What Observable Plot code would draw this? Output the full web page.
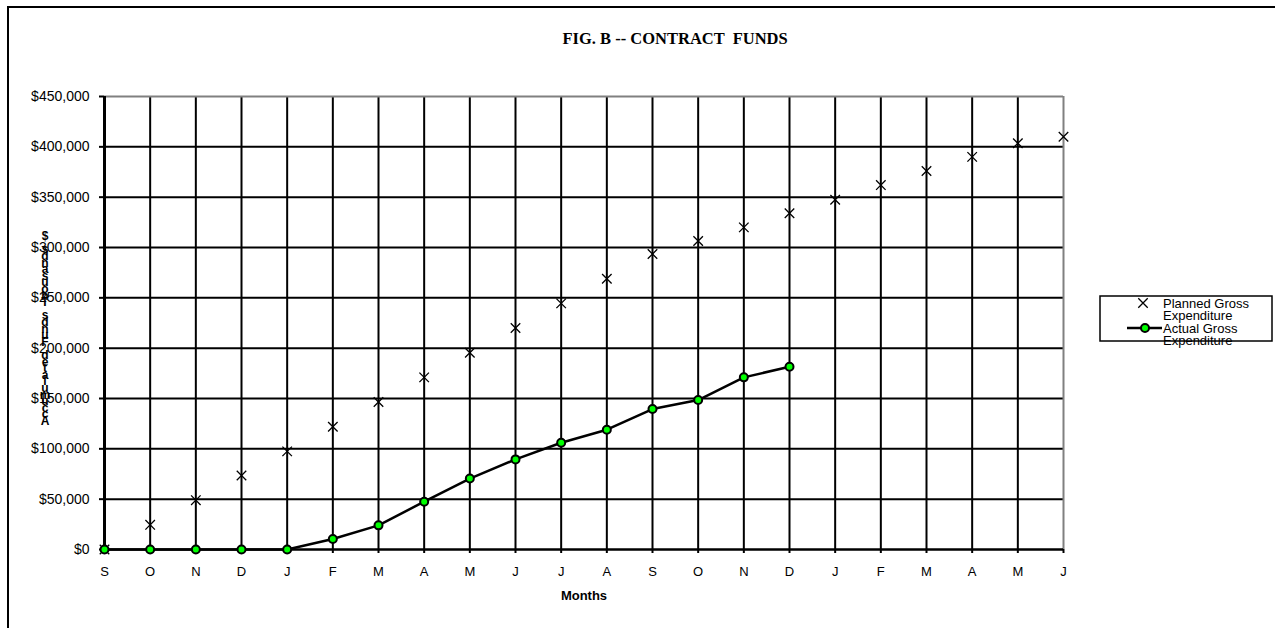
<!DOCTYPE html>
<html><head><meta charset="utf-8">
<script src="https://cdn.jsdelivr.net/npm/d3@7"></script>
<script src="https://cdn.jsdelivr.net/npm/@observablehq/plot@0.6"></script>
<style>
html,body{margin:0;padding:0;background:#fff;overflow:hidden;}
#wrap{position:relative;width:1275px;height:628px;overflow:hidden;background:#fff;}
#frame{position:absolute;left:7px;top:6px;width:1400px;height:800px;border:2px solid #000;box-sizing:border-box;}
#chart{position:absolute;left:0;top:0;}
</style></head><body>
<div id="wrap"><div id="frame"></div><div id="chart"></div></div>
<script>
const months = ["S","O","N","D","J","F","M","A","M","J","J","A","S","O","N","D","J","F","M","A","M","J"];
const planned = [0,24500,49000,73500,97500,122000,146500,171000,195500,220000,244500,269000,293500,306500,320000,334000,347500,362000,376000,390000,403500,410000];
const actual = [0,0,0,0,0,10500,24000,47500,70500,89500,106000,119000,139500,148500,171000,181500];
const yTicks = [0,50000,100000,150000,200000,250000,300000,350000,400000,450000];
const title = "FIG. B -- CONTRACT  FUNDS";
const yLabel = "Accumulated Funds Thousands $";
const xLabel = "Months";
const seriesNames = ["Planned Gross Expenditure","Actual Gross Expenditure"];

const plannedData = planned.map((v,i)=>({i, v}));
const actualData = actual.map((v,i)=>({i, v}));
const idx = months.map((m,i)=>i);
const fmt = d3.format("$,");
const sans = "'Liberation Sans', Arial, sans-serif";

const plot = Plot.plot({
  width:1275, height:628,
  marginLeft:104, marginRight:212, marginTop:96, marginBottom:79,
  style:{fontFamily:sans, fontSize:"13px", background:"transparent", overflow:"visible", color:"#000"},
  x:{type:"linear", domain:[0,21]},
  y:{domain:[0,450000]},
  marks:[
    Plot.ruleY(yTicks.filter(d=>d>0 && d<450000), {stroke:"#000", strokeWidth:2}),
    Plot.ruleX(idx.filter(i=>i>0 && i<21), {stroke:"#000", strokeWidth:2}),
    Plot.ruleY([450000], {stroke:"#808080", strokeWidth:2}),
    Plot.ruleX([21], {stroke:"#808080", strokeWidth:2}),
    Plot.axisY({ticks:yTicks, tickFormat:fmt, tickSize:5, tickPadding:10, label:null, strokeWidth:2, strokeOpacity:1, fontSize:14}),
    Plot.axisX({ticks:idx, tickFormat:i=>months[i], tickSize:4, tickPadding:13, label:null, strokeWidth:2, strokeOpacity:1, fontSize:13}),
    Plot.ruleX([0], {stroke:"#000", strokeWidth:3}),
    Plot.ruleY([0], {stroke:"#000", strokeWidth:2.5}),
    Plot.dot(plannedData, {x:"i", y:"v", symbol:"times", r:4.4, stroke:"#000", strokeWidth:1.3}),
    Plot.line(actualData, {x:"i", y:"v", stroke:"#000", strokeWidth:2.5}),
    Plot.dot(actualData, {x:"i", y:"v", r:4, fill:"#00ff00", stroke:"#000", strokeWidth:2}),
    Plot.text([title], {text:d=>d, frameAnchor:"top-left", textAnchor:"start", dx:458, dy:-58, fontFamily:"'Liberation Serif', 'Times New Roman', serif", fontWeight:"bold", fontSize:16.5, lineAnchor:"middle"}),
    Plot.text([xLabel], {text:d=>d, frameAnchor:"bottom", dy:50, fontWeight:"bold", fontSize:13})
  ]
});
document.getElementById("chart").appendChild(plot);

const svg = d3.select(plot);
// stacked y-axis label (letters upright, reading bottom to top)
const yl = svg.append("text").attr("font-family", sans).attr("font-weight","bold")
  .attr("font-size", 12).attr("text-anchor","middle").attr("fill","#000");
Array.from(yLabel).forEach((c,k)=>{
  yl.append("tspan").attr("x",45).attr("y", 425 - k*6.6).text(c);
});

// legend
const lg = svg.append("g").attr("font-family", sans).attr("font-size", 13).attr("fill","#000").attr("text-anchor","start");
lg.append("rect").attr("x",1100).attr("y",296).attr("width",172).attr("height",45)
  .attr("fill","#fff").attr("stroke","#000").attr("stroke-width",1.5);
const rows = [["Planned Gross","Expenditure"],["Actual Gross","Expenditure"]];
const rowY = [303, 328];
rows.forEach((r,k)=>{
  r.forEach((s,j)=>{
    lg.append("text").attr("x",1163).attr("y", rowY[k] + j*12.5 + 4.5).attr("text-anchor","start").text(s);
  });
});
lg.append("path").attr("d", d3.symbol(d3.symbolTimes, 60)()).attr("transform","translate(1143,303)")
  .attr("stroke","#000").attr("stroke-width",1.3).attr("fill","none");
lg.append("line").attr("x1",1127).attr("x2",1162).attr("y1",328).attr("y2",328).attr("stroke","#000").attr("stroke-width",2.5);
lg.append("circle").attr("cx",1145).attr("cy",328).attr("r",4).attr("fill","#00ff00").attr("stroke","#000").attr("stroke-width",2);
</script>
</body></html>
